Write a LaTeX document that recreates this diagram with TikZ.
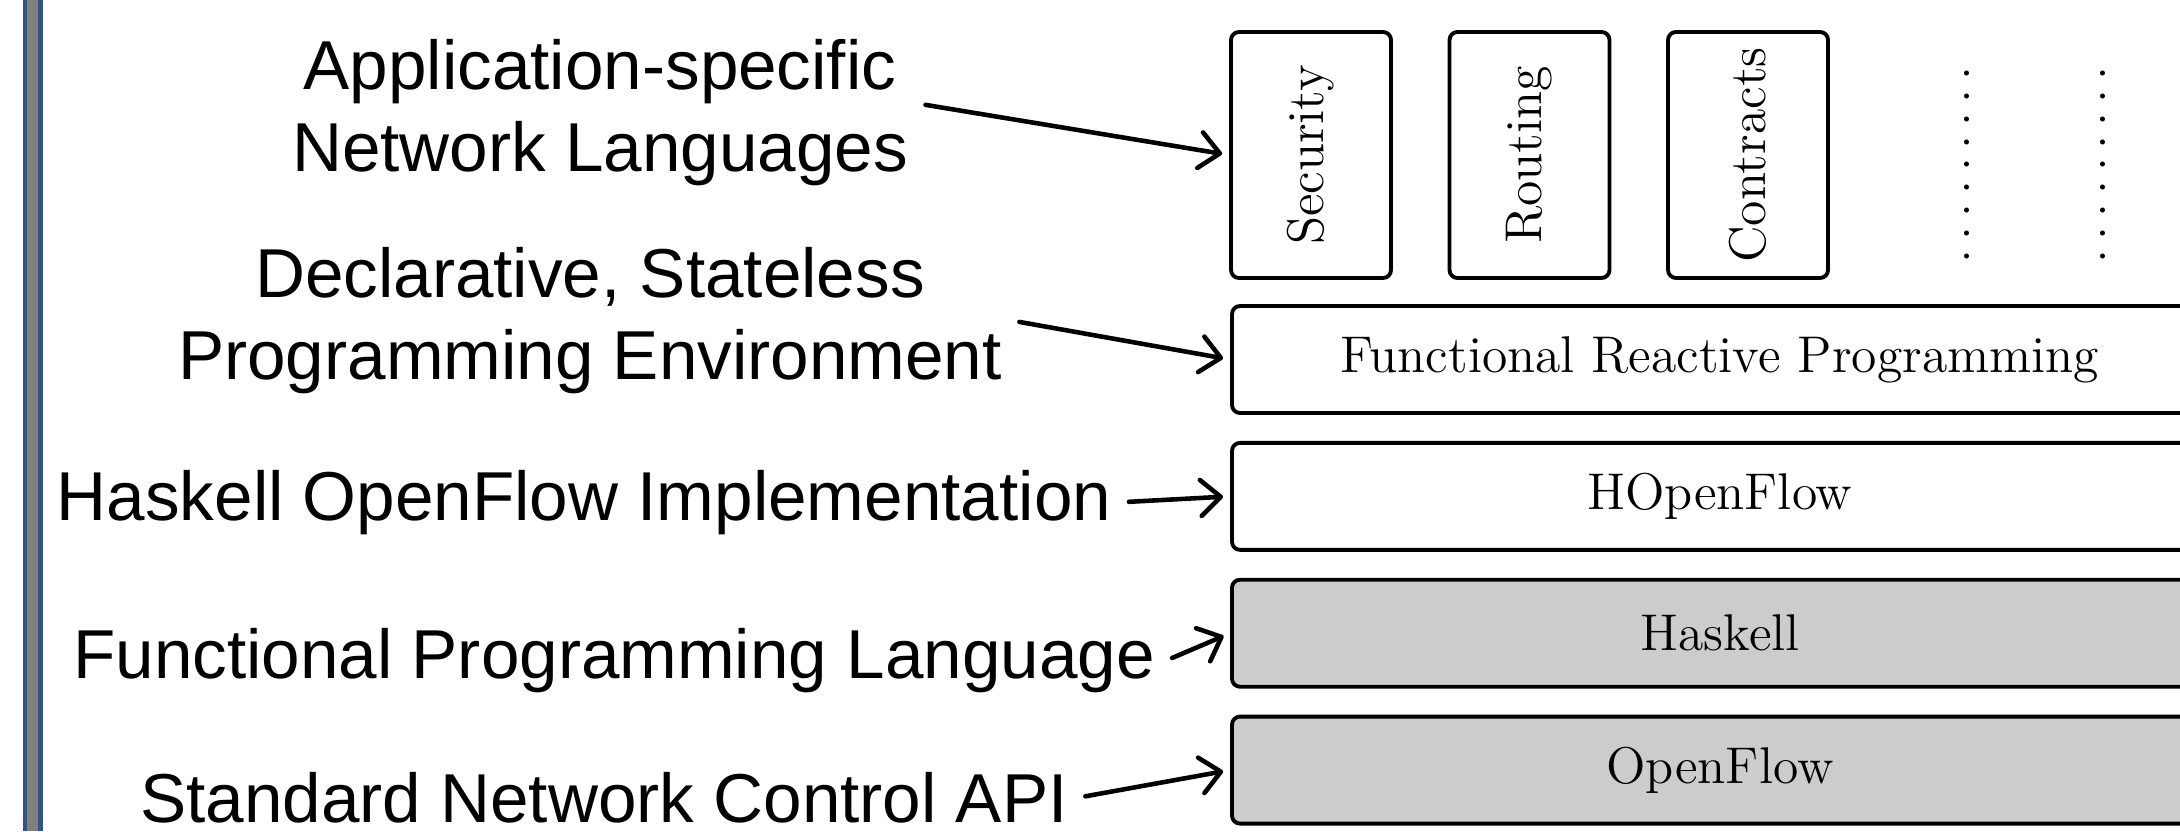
\documentclass[tikz,border=0pt]{standalone}
\usepackage{fontspec}
\newfontfamily\arialfont{Liberation Sans}
\usetikzlibrary{positioning,arrows.meta}

\definecolor{barblue}{RGB}{46,84,136}
\definecolor{bargray}{RGB}{128,128,128}
\definecolor{layergray}{RGB}{204,204,204}

\newcommand{\dotcolumn}{\foreach \i in {1,...,9}{.\kern2.5pt}}

\begin{document}
\begin{tikzpicture}
        \tikzstyle{layer}=[draw=black, line width=1.1pt, rounded corners=0.08cm, minimum width=9.76cm, minimum height=1.07cm, inner sep=0pt, font=\fontsize{14.7}{17}\selectfont];
        \tikzstyle{lang}=[layer, rotate=90, minimum width=2.46cm, minimum height=1.6cm];
        \tikzstyle{more}=[rotate=90, inner sep=0pt, font=\fontsize{14.7}{17}\selectfont];
        \tikzstyle{note}=[font=\arialfont\fontsize{19.7}{23.3}\selectfont, align=center, inner ysep=1pt];
        \tikzstyle{pointer}=[-{Straight Barb[length=2mm, width=3.6mm, round]}, line width=1.3pt, line cap=round, shorten >=2pt, shorten <=1.5pt];

        \useasboundingbox (0, 0) rectangle (21.8, 8.31);
        \clip (0, 0) rectangle (21.8, 8.31);

        % slide edge
        \fill[barblue] (0.23, 0) rectangle (0.43, 8.31);
        \fill[bargray] (0.275, 0) rectangle (0.38, 8.31);

        \node[lang] (sec) at (13.11, 6.76) {Security};
        \node[lang] (rout) at (15.295, 6.76) {Routing};
        \node[lang] (contr) at (17.48, 6.76) {Contracts};
        \node[more] (dots1) at (19.67, 6.705) {\dotcolumn};
        \node[more] (dots2) at (21.03, 6.705) {\dotcolumn};

        \node[layer] (frp) at (17.2, 4.715) {Functional Reactive Programming};
        \node[layer, below=0.26cm of frp] (hof) {HOpenFlow};
        \node[layer, fill=layergray, below=0.26cm of hof] (hask) {Haskell};
        \node[layer, fill=layergray, below=0.26cm of hask] (of) {OpenFlow};

        \node[note] (applbl) at (6.00, 7.18) {Application-specific\\Network Languages};
        \node[note] (envlbl) at (5.90, 5.10) {Declarative, Stateless\\Programming Environment};
        \node[note, anchor=base] (impllbl) at (5.84, 3.11) {Haskell OpenFlow Implementation};
        \node[note, anchor=base] (fplbl) at (6.14, 1.53) {Functional Programming Language};
        \node[note, anchor=base] (apilbl) at (6.04, 0.09) {Standard Network Control API};

        % rotated boxes: their north side faces left
        \draw[pointer] ([yshift=0.09cm]applbl.east) -- (sec.north);
        \draw[pointer] (envlbl.east) -- (frp.west);
        \draw[pointer] (impllbl.east) -- (hof.west);
        \draw[pointer] (fplbl.east) -- (hask.west);
        \draw[pointer] (apilbl.east) -- (of.west);

    \end{tikzpicture}
\end{document}
